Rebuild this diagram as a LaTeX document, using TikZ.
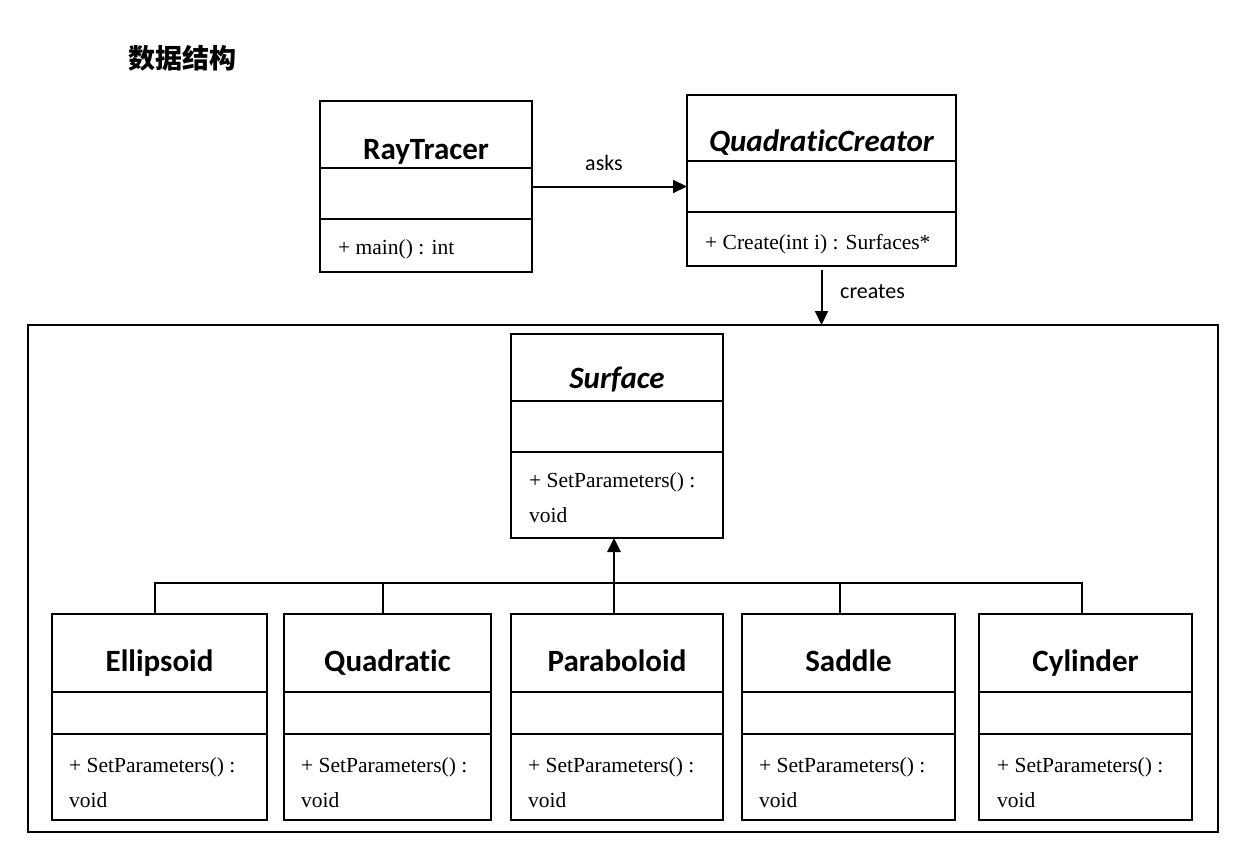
\documentclass[tikz,border=0pt]{standalone}
\usepackage{fontspec}
\setmainfont{Liberation Serif}
\newfontfamily\headfont{Carlito}[Ligatures=NoCommon]
\newfontfamily\cjk{Noto Sans CJK SC}
\usetikzlibrary{positioning,arrows.meta}

\tikzset{
	box/.style = {draw=black, line width=2.4pt, outer sep=0pt, inner sep=0pt, anchor=north west},
	part/.style = {draw=black, line width=2.4pt, outer sep=0pt, inner sep=0pt},
	group/.style = {draw=black, line width=2.4pt, outer sep=0pt, inner sep=0pt, anchor=north west},
	heading/.style = {font=\cjk\bfseries\fontsize{27}{32}\selectfont, inner sep=0pt},
	title/.style = {font=\headfont\bfseries\fontsize{31}{37}\selectfont, inner sep=0pt, anchor=base},
	abstract/.style = {font=\headfont\bfseries\itshape\fontsize{31}{37}\selectfont, inner sep=0pt, anchor=base},
	op/.style = {font=\fontsize{21.5}{35}\selectfont, inner sep=0pt, anchor=base west, align=left},
	lbl/.style = {font=\headfont\fontsize{22}{26}\selectfont, inner sep=0pt, anchor=base},
	assoc/.style = {-{Triangle[length=14pt,width=13pt]}, line width=2pt},
	gen/.style = {line width=2pt}
}

\begin{document}
\begin{tikzpicture}[x=1pt, y=-1pt]
	\useasboundingbox (0,0) rectangle (1246,860);
	\node[heading] (head) at (182,58) {数据结构};

	% RayTracer
	\node[box, minimum width=212, minimum height=67] (rt) at (320,101) {};
	\node[part, minimum width=212, minimum height=51, below=0pt of rt] (rtattr) {};
	\node[part, minimum width=212, minimum height=53, below=0pt of rtattr] (rtops) {};
	\node[title] at ([yshift=9pt]rt.south) {RayTracer};
	\node[op] at ([xshift=18pt,yshift=-35pt]rtops.north west) {+ main() : int};

	% QuadraticCreator
	\node[box, minimum width=269, minimum height=66] (qc) at (687,95) {};
	\node[part, minimum width=269, minimum height=51, below=0pt of qc] (qcattr) {};
	\node[part, minimum width=269, minimum height=54, below=0pt of qcattr] (qcops) {};
	\node[abstract] at ([yshift=10pt]qc.south) {QuadraticCreator};
	\node[op] at ([xshift=18pt,yshift=-37pt]qcops.north west) {+ Create(int i) : Surfaces*};

	% surfaces
	\node[group, minimum width=1190, minimum height=507] (surfaces) at (28,325) {};

	\node[box, minimum width=212, minimum height=67] (surf) at (511,334) {};
	\node[part, minimum width=212, minimum height=51, below=0pt of surf] (surfattr) {};
	\node[part, minimum width=212, minimum height=86, below=0pt of surfattr] (surfops) {};
	\node[abstract] at ([yshift=13pt]surf.south) {Surface};
	\node[op] at ([xshift=18pt,yshift=-70pt]surfops.north west) {+ SetParameters() :\\void};

	\node[box, minimum width=215, minimum height=78] (ell) at (52,614) {};
	\node[part, minimum width=215, minimum height=42, below=0pt of ell] (ellattr) {};
	\node[part, minimum width=215, minimum height=86, below=0pt of ellattr] (ellops) {};
	\node[title] at ([yshift=21pt]ell.south) {Ellipsoid};
	\node[op] at ([xshift=17pt,yshift=-73pt]ellops.north west) {+ SetParameters() :\\void};

	\node[box, minimum width=207, minimum height=78] (quad) at (284,614) {};
	\node[part, minimum width=207, minimum height=42, below=0pt of quad] (quadattr) {};
	\node[part, minimum width=207, minimum height=86, below=0pt of quadattr] (quadops) {};
	\node[title] at ([yshift=21pt]quad.south) {Quadratic};
	\node[op] at ([xshift=17pt,yshift=-73pt]quadops.north west) {+ SetParameters() :\\void};

	\node[box, minimum width=212, minimum height=78] (par) at (511,614) {};
	\node[part, minimum width=212, minimum height=42, below=0pt of par] (parattr) {};
	\node[part, minimum width=212, minimum height=86, below=0pt of parattr] (parops) {};
	\node[title] at ([yshift=21pt]par.south) {Paraboloid};
	\node[op] at ([xshift=17pt,yshift=-73pt]parops.north west) {+ SetParameters() :\\void};

	\node[box, minimum width=213, minimum height=78] (sad) at (742,614) {};
	\node[part, minimum width=213, minimum height=42, below=0pt of sad] (sadattr) {};
	\node[part, minimum width=213, minimum height=86, below=0pt of sadattr] (sadops) {};
	\node[title] at ([yshift=21pt]sad.south) {Saddle};
	\node[op] at ([xshift=17pt,yshift=-73pt]sadops.north west) {+ SetParameters() :\\void};

	\node[box, minimum width=213, minimum height=78] (cyl) at (979,614) {};
	\node[part, minimum width=213, minimum height=42, below=0pt of cyl] (cylattr) {};
	\node[part, minimum width=213, minimum height=86, below=0pt of cylattr] (cylops) {};
	\node[title] at ([yshift=21pt]cyl.south) {Cylinder};
	\node[op] at ([xshift=18pt,yshift=-73pt]cylops.north west) {+ SetParameters() :\\void};

	% associations
	\draw[assoc] (rtattr.east |- qcattr.west) -- (qcattr.west);
	\node[lbl] at (604,170) {asks};
	\draw[assoc] ([yshift=-4pt]qcops.south) -- (qcops.south |- surfaces.north);
	\node[lbl, anchor=base west] at (840,298) {creates};

	% inheritance
	\coordinate (bus) at (0,583);
	\draw[gen] ([xshift=-4.5pt]ell.north) -- ([xshift=-4.5pt]ell.north |- bus)
		-- ([xshift=-3.5pt]cyl.north |- bus) -- ([xshift=-3.5pt]cyl.north);
	\draw[gen] ([xshift=-4.5pt]quad.north) -- ([xshift=-4.5pt]quad.north |- bus);
	\draw[gen] ([xshift=-8.5pt]sad.north) -- ([xshift=-8.5pt]sad.north |- bus);
	\draw[assoc, line width=2.8pt] ([xshift=-3pt]par.north) -- ([xshift=-3pt]surfops.south);
\end{tikzpicture}
\end{document}
